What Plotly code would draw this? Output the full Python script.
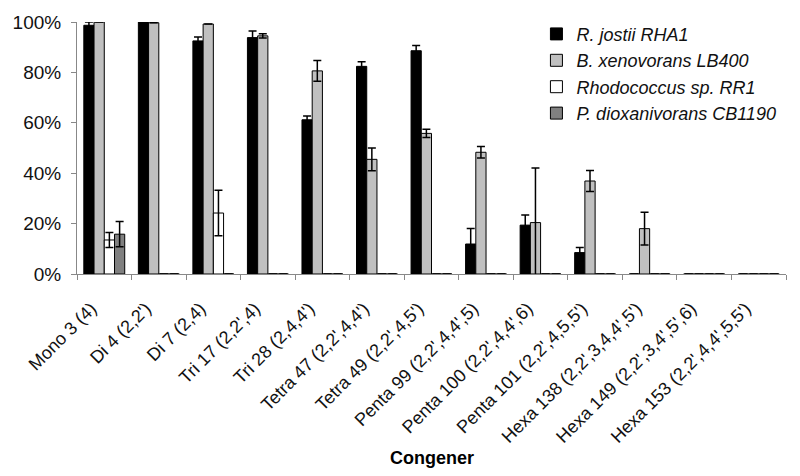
import plotly.graph_objects as go

categories = ["Mono 3 (4)", "Di 4 (2,2')", "Di 7 (2,4)", "Tri 17 (2,2',4)", "Tri 28 (2,4,4')",
              "Tetra 47 (2,2',4,4')", "Tetra 49 (2,2',4,5')", "Penta 99 (2,2',4,4',5)",
              "Penta 100 (2,2',4,4',6)", "Penta 101 (2,2',4,5,5')", "Hexa 138 (2,2',3,4,4',5')",
              "Hexa 149 (2,2',3,4',5',6)", "Hexa 153 (2,2',4,4',5,5')"]

series_names = ["R. jostii RHA1", "B. xenovorans LB400", "Rhodococcus sp. RR1", "P. dioxanivorans CB1190"]

rha1 = [98.7, 100, 92.5, 93.8, 61.2, 82.4, 88.6, 11.9, 19.4, 8.5, 0, 0, 0]
rha1_err = [1.3, 0, 1.5, 2.6, 1.5, 1.8, 2.1, 6.2, 4.0, 2.0, 0, 0, 0]
lb400 = [100, 99.7, 99.2, 94.5, 80.6, 45.5, 55.8, 48.3, 20.4, 36.9, 18.0, 0, 0]
lb400_err = [0, 0, 0, 0.8, 4.1, 4.5, 1.6, 2.3, 21.7, 4.2, 6.5, 0, 0]
rr1 = [13.5, 0, 24.2, 0, 0, 0, 0, 0, 0, 0, 0, 0, 0]
rr1_err = [3.0, 0, 9.0, 0, 0, 0, 0, 0, 0, 0, 0, 0, 0]
cb1190 = [15.8, 0, 0, 0, 0, 0, 0, 0, 0, 0, 0, 0, 0]
cb1190_err = [5.0, 0, 0, 0, 0, 0, 0, 0, 0, 0, 0, 0, 0]

values = [rha1, lb400, rr1, cb1190]
errors = [rha1_err, lb400_err, rr1_err, cb1190_err]
colors = ["#000000", "#c0c0c0", "#ffffff", "#808080"]

FONT = "Liberation Sans, Arial, sans-serif"

fig = go.Figure()
for i, (name, v, e, c) in enumerate(zip(series_names, values, errors, colors)):
    fig.add_trace(go.Bar(
        x=categories, y=v, name=name,
        marker=dict(color=c, line=dict(color="#000000", width=1)),
        error_y=dict(type="data", array=e, visible=True, color="#000000", thickness=1.5, width=4),
        legendgroup=f"g{i}",
    ))

fig.update_layout(
    width=792, height=468,
    margin=dict(l=69, r=14, t=8, b=202),
    paper_bgcolor="white", plot_bgcolor="white",
    barmode="group", bargap=0.25, bargroupgap=0,
    font=dict(family=FONT, color="#111111", size=17),
    showlegend=True,
    legend=dict(
        x=0.648, y=1.025, xanchor="left", yanchor="top",
        font=dict(family=FONT, size=18, style="italic"),
        bgcolor="rgba(0,0,0,0)", tracegroupgap=0,
        traceorder="grouped",
    ),
    xaxis=dict(
        automargin=False,
        tickangle=-45, tickfont=dict(family=FONT, size=18, color="#111111"),
        ticklabelshift=-13, ticklabelstandoff=16,
        showline=True, linecolor="#888888", linewidth=1,
        ticks="outside", tickson="boundaries", ticklen=5, tickcolor="#888888",
        showgrid=False,
    ),
    yaxis=dict(
        automargin=False,
        range=[0, 100], dtick=20, ticksuffix="%",
        tickfont=dict(family=FONT, size=19, color="#111111"),
        ticklabelstandoff=6,
        showline=True, linecolor="#888888", linewidth=1,
        ticks="outside", ticklen=5, tickcolor="#888888",
        showgrid=False, zeroline=False,
    ),
    annotations=[dict(
        text="<b>Congener</b>", xref="paper", yref="paper", x=0.5, y=-0.729,
        xanchor="center", yanchor="middle", showarrow=False,
        font=dict(family=FONT, size=18, color="#000000"),
    )],
)

fig.write_html("out.html")
